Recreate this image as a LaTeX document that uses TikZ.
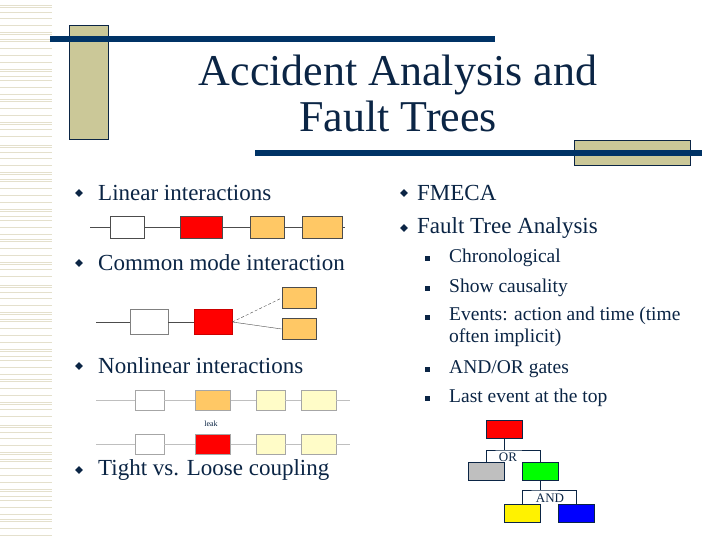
\documentclass[tikz,border=0pt]{standalone}
\usepackage{fontspec}
\setmainfont{Liberation Serif}
\begin{document}
\begin{tikzpicture}[x=1pt,y=-1pt,
 txt/.style={text=navy,anchor=west,inner sep=0pt,font=\fontsize{23}{23}\selectfont},
 sub/.style={text=navy,anchor=west,inner sep=0pt,font=\fontsize{19.5}{22}\selectfont,align=left},
 bx/.style={draw=black!70,line width=0.6pt,minimum width=#1,minimum height=22,inner sep=0pt},
 pb/.style={draw=black!35,line width=0.6pt,minimum width=#1,minimum height=20,inner sep=0pt},
 dia/.style={fill=navy,diamond,inner sep=0pt,minimum size=8},
 sq/.style={fill=navy,inner sep=0pt,minimum size=5},
 ft/.style={draw=navy,line width=0.7pt,minimum width=36,minimum height=18,inner sep=0pt}]
\usetikzlibrary{shapes.geometric}
\definecolor{navy}{HTML}{0B2545}
\definecolor{tan}{HTML}{CBC898}
\definecolor{bar}{HTML}{003366}
\definecolor{org}{HTML}{FFC865}
\definecolor{pale}{HTML}{FFFCC8}
\definecolor{stripe}{HTML}{E4E0CC}
\useasboundingbox (0,0) rectangle (720,540);
\fill[white] (0,0) rectangle (720,540);
\foreach \o in {0,140,280,420}
\foreach \y in {5,7,12,18,25,32,34,39,41,48,55,62,69,71,76,80,87,94,99,101,108,115,122,124,129,136}
  \draw[stripe,line width=0.6pt] (0,\y+\o) -- (52,\y+\o);
\filldraw[fill=tan,draw=navy,line width=0.6pt] (69,25) rectangle (108,139);
\fill[bar] (50,36) rectangle (495,42);
\filldraw[fill=tan,draw=navy,line width=0.6pt] (574,140) rectangle (690,165);
\fill[bar] (255,150) rectangle (702,156);
\node[text=navy,font=\fontsize{44}{46}\selectfont,align=center] (title) at (398,93) {Accident Analysis and\\Fault Trees};
% left bullets
\node[dia] (d1) at (79,193) {}; \node[txt] (t1) at (98,193) {Linear interactions};
\node[dia] (d2) at (79,263) {}; \node[txt] (t2) at (98,263) {Common mode interaction};
\node[dia] (d3) at (79,366) {}; \node[txt] (t3) at (98,366) {Nonlinear interactions};
\node[dia] (d4) at (79,470) {}; \node[txt] (t4) at (98,470) {Tight vs. Loose coupling};
% right bullets
\node[dia] (d5) at (404,193) {}; \node[txt] (t5) at (417,193) {FMECA};
\node[dia] (d6) at (404,228) {}; \node[txt] (t6) at (417,228) {Fault Tree Analysis};
\foreach \y/\t in {258/{Chronological},288/{Show causality},369/{AND/OR gates},398/{Last event at the top}}{
  \node[sq] at (427,\y) {}; \node[sub] at (449,\y) {\t};}
\node[sq] at (427,317) {};
\node[sub,anchor=north west] (ev) at (449,307) {Events: action and time (time\\often implicit)};
% linear
\coordinate (l0) at (90,227); \coordinate (l5) at (345,227);
\node[bx=34,fill=white] (la) at (127,227) {};
\node[bx=42,fill=red] (lb) at (201,227) {};
\node[bx=34,fill=org] (lc) at (267,227) {};
\node[bx=40,fill=org] (ld) at (322,227) {};
\draw[black!70] (l0)--(la)--(lb)--(lc)--(ld)--(l5);
% common mode
\coordinate (c0) at (96,322);
\node[bx=38,minimum height=25,draw=black!50,fill=white] (ca) at (149,322) {};
\node[bx=38,minimum height=25,fill=red,draw=red!80!black] (cb) at (213,322) {};
\node[bx=34,minimum height=21,fill=org] (cc) at (299,298) {};
\node[bx=34,minimum height=21,fill=org] (cd) at (299,329) {};
\draw[black!70] (c0)--(ca)--(cb);
\draw[black!70,densely dashed] (cb.east)--(cc.west);
\draw[black!70] (cb.east)--(cd.west);
% nonlinear
\foreach \y/\c/\n in {400/org/a,444/red/b}{
  \coordinate (n\n0) at (96,\y); \coordinate (n\n5) at (350,\y);
  \node[pb=29,fill=white] (n\n1) at (149.5,\y) {};
  \node[pb=35,fill=\c] (n\n2) at (213,\y) {};
  \node[pb=29,fill=pale] (n\n3) at (270.5,\y) {};
  \node[pb=35,fill=pale] (n\n4) at (318.5,\y) {};
  \draw[black!25,line width=0.8pt] (n\n0)--(n\n1)--(n\n2)--(n\n3)--(n\n4)--(n\n5);}
\node[text=navy,font=\fontsize{8}{8}\selectfont] (leak) at (211,424) {leak};
% fault tree
\node[ft,fill=red] (top) at (504,429) {};
\node[ft,fill=black!25] (g) at (486,471) {};
\node[ft,fill=green] (gr) at (540,471) {};
\node[ft,fill=yellow] (y) at (522,513) {};
\node[ft,fill=blue] (b) at (576,513) {};
\coordinate (or) at (504,450); \coordinate (and) at (540,490);
\draw[navy,line width=0.7pt] (top.south)--(or) (g.north)|-(or) -| (gr.north);
\draw[navy,line width=0.7pt] (gr.south)--(and) (y.north)|-(and) -| (b.north);
\node[text=navy,font=\fontsize{13}{13}\selectfont,inner sep=0pt] (ort) at (508,457) {OR};
\node[text=navy,font=\fontsize{13}{13}\selectfont,inner sep=0pt] (andt) at (550,498) {AND};
\end{tikzpicture}
\end{document}
